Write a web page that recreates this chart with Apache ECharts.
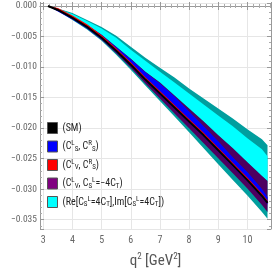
<!DOCTYPE html>
<html>
<head>
<meta charset="utf-8">
<script src="https://cdn.jsdelivr.net/npm/echarts@6/dist/echarts.min.js"></script>
<style>html,body{margin:0;padding:0;background:#fff}#c{width:273px;height:273px}</style>
</head>
<body>
<div id="c"></div>
<script>
const q2 = [3.16, 3.5, 4.0, 4.5, 5.0, 5.5, 6.0, 6.5, 7.0, 7.5, 8.0, 8.5, 9.0, 9.5, 10.0, 10.5, 10.69];
const sm = [0, -0.00065, -0.00195, -0.00342, -0.00521, -0.00733, -0.00961, -0.01205, -0.01434, -0.01662, -0.0189, -0.02118, -0.02362, -0.02606, -0.02851, -0.03111, -0.03225];
const tealHi = [0, -0.00041, -0.00114, -0.00228, -0.00342, -0.00489, -0.00668, -0.00847, -0.0101, -0.01173, -0.01352, -0.01515, -0.01678, -0.01841, -0.0202, -0.02183, -0.02281];
const tealLo = [0, -0.00081, -0.00228, -0.00383, -0.0057, -0.00798, -0.01043, -0.01303, -0.01556, -0.01808, -0.02069, -0.0233, -0.0259, -0.02851, -0.03103, -0.03372, -0.03486];
const cyanHi = [0, -0.00049, -0.0013, -0.00244, -0.00367, -0.00521, -0.00717, -0.00896, -0.01075, -0.01254, -0.01434, -0.01613, -0.01792, -0.01971, -0.02167, -0.02346, -0.0246];
const purpleHi = [0, -0.00057, -0.00171, -0.0031, -0.00472, -0.00668, -0.00863, -0.01075, -0.01254, -0.01466, -0.01678, -0.0189, -0.02118, -0.02329, -0.02558, -0.02786, -0.02867];
const cyanLo = purpleHi;
const purpleLo = [0, -0.00073, -0.00212, -0.00367, -0.00554, -0.00774, -0.0101, -0.01271, -0.01515, -0.01759, -0.02004, -0.02248, -0.02492, -0.02737, -0.02989, -0.03258, -0.03372];
const blueHi = [0, -0.00057, -0.00179, -0.00318, -0.00481, -0.00676, -0.00872, -0.01083, -0.01271, -0.01482, -0.01727, -0.01971, -0.02215, -0.02476, -0.0272, -0.02997, -0.03128];
const blueLo = [0, -0.0009, -0.0022, -0.00367, -0.00546, -0.00757, -0.00986, -0.0123, -0.01458, -0.01686, -0.01914, -0.02142, -0.02386, -0.02631, -0.02875, -0.03136, -0.0325];
const redHi = [0, -0.00033, -0.00155, -0.00301, -0.00481, -0.00692, -0.0092, -0.01165, -0.01393, -0.01621, -0.01849, -0.02077, -0.02321, -0.02566, -0.0281, -0.03071, -0.03185];
const redLo = [0, -0.00073, -0.00204, -0.0035, -0.00529, -0.00741, -0.00969, -0.01214, -0.01442, -0.0167, -0.01898, -0.02126, -0.0237, -0.02615, -0.02859, -0.0312, -0.03234];

const legendNames = ['SM', 'SLSR', 'VLSR', 'VLT', 'ReIm'];
const legendLabels = {
  SM: '(SM)',
  SLSR: '(C{sup|L}{sub|S}, C{sup|R}{sub|S})',
  VLSR: '(C{sup|L}{sub|V}, C{sup|R}{sub|S})',
  VLT: '(C{sup|L}{sub|V}, C{sub|S}{sup|L}=\u22124C{sub|T})',
  ReIm: '(Re[C{sub|S}{sup|L}=4C{sub|T}],Im[C{sub|S}{sup|L}=4C{sub|T}])'
};

const FONT = "'Roboto Condensed', Roboto, sans-serif";
const CS = 'condensed';

function band(name, hi, lo, fill, legendColor) {
  return {
    type: 'custom',
    name: name,
    coordinateSystem: 'cartesian2d',
    xAxisIndex: 0, yAxisIndex: 0,
    silent: true,
    itemStyle: { color: legendColor },
    data: [[q2[0], hi[0]]],
    renderItem: function (params, api) {
      const pts = [];
      for (let i = 0; i < q2.length; i++) pts.push(api.coord([q2[i], hi[i]]));
      for (let i = q2.length - 1; i >= 0; i--) pts.push(api.coord([q2[i], lo[i]]));
      return { type: 'polygon', shape: { points: pts }, style: { fill: fill, stroke: null } };
    }
  };
}

const chart = echarts.init(document.getElementById('c'), null, { renderer: 'canvas' });
const axisCommon = {
  axisLine: { show: true, lineStyle: { color: '#999', width: 1 } },
  axisTick: { show: true, inside: true, length: 4, lineStyle: { color: '#999' } },
  minorTick: { show: true, splitNumber: 5, length: 2, lineStyle: { color: '#aaa' } }
};
const xMin = 2.887, xMax = 10.81, yMin = -0.03652, yMax = 0.00049;
chart.setOption({
  animation: false,
  grid: { left: 40, right: 2, top: 3, bottom: 44, containLabel: false, outerBoundsMode: 'none' },
  xAxis: [
    Object.assign({
      type: 'value', min: xMin, max: xMax, splitNumber: 8, position: 'bottom',
      name: 'q{sup|2} [GeV{sup|2}]', nameLocation: 'middle', nameGap: 23,
      nameTextStyle: { fontFamily: FONT, fontStyle: CS, fontSize: 15, color: '#555',
        rich: { sup: { fontSize: 9, padding: [0, 0, 9, 0], color: '#555', fontFamily: FONT, fontStyle: CS } } },
      axisLabel: { fontFamily: FONT, fontStyle: CS, fontSize: 10, color: '#666', margin: 6, showMinLabel: false, showMaxLabel: false,
        formatter: function (v) { return Math.abs(v - Math.round(v)) < 1e-6 ? String(Math.round(v)) : ''; } },
      splitLine: { show: true, lineStyle: { color: '#e6e6e6', width: 1 } },
      minorSplitLine: { show: false }
    }, axisCommon),
    Object.assign({
      type: 'value', min: xMin, max: xMax, splitNumber: 8, position: 'top',
      axisLabel: { show: false }, splitLine: { show: false }
    }, axisCommon)
  ],
  yAxis: [
    Object.assign({
      type: 'value', min: yMin, max: yMax, splitNumber: 7, position: 'left',
      name: 'A{sub|3}', nameLocation: 'middle', nameGap: 27, nameRotate: 90,
      nameTextStyle: { fontFamily: FONT, fontStyle: CS, fontSize: 15, color: '#555',
        rich: { sub: { fontSize: 9, padding: [7, 0, 0, 0], color: '#555', fontFamily: FONT, fontStyle: CS } } },
      axisLabel: { fontFamily: FONT, fontStyle: CS, fontSize: 9.5, color: '#666', margin: 3, showMinLabel: false, showMaxLabel: false,
        formatter: function (v) {
          const k = Math.round(v / 0.005);
          if (Math.abs(v - k * 0.005) > 1e-7) return '';
          const s = Math.abs(k * 0.005).toFixed(3);
          return (k < 0 ? '\u2212' : '') + s;
        } },
      splitLine: { show: true, lineStyle: { color: '#e6e6e6', width: 1 } }
    }, axisCommon),
    Object.assign({
      type: 'value', min: yMin, max: yMax, splitNumber: 7, position: 'right',
      axisLabel: { show: false }, splitLine: { show: false }
    }, axisCommon)
  ],
  legend: {
    data: legendNames.map(n => ({ name: n, icon: 'rect' })),
    orient: 'vertical', left: 47, top: 122, padding: 0,
    itemWidth: 10, itemHeight: 11, itemGap: 6,
    selectedMode: false,
    itemStyle: { borderColor: '#555', borderWidth: 1 },
    formatter: function (n) { return legendLabels[n]; },
    textStyle: {
      fontFamily: FONT, fontStyle: CS, fontSize: 10, color: '#222', lineHeight: 12,
      rich: {
        sup: { fontSize: 7, fontFamily: FONT, fontStyle: CS, color: '#222', padding: [0, 0, 6, 0] },
        sub: { fontSize: 7, fontFamily: FONT, fontStyle: CS, color: '#222', padding: [5, 0, 0, 0] }
      }
    }
  },
  series: [
    band('teal', tealHi, tealLo, '#009e9e', '#009e9e'),
    band('ReIm', cyanHi, cyanLo, '#00ffff', '#00ffff'),
    band('VLT', purpleHi, purpleLo, '#4e0060', '#800080'),
    band('SLSR', blueHi, blueLo, '#0000ff', '#0000ff'),
    band('VLSR', redHi, redLo, '#ff0000', '#ff0000'),
    {
      type: 'line', name: 'SM', xAxisIndex: 0, yAxisIndex: 0,
      data: q2.map((x, i) => [x, sm[i]]),
      symbol: 'none', lineStyle: { color: '#000', width: 2 }, itemStyle: { color: '#000' }
    }
  ]
});
</script>
</body>
</html>
